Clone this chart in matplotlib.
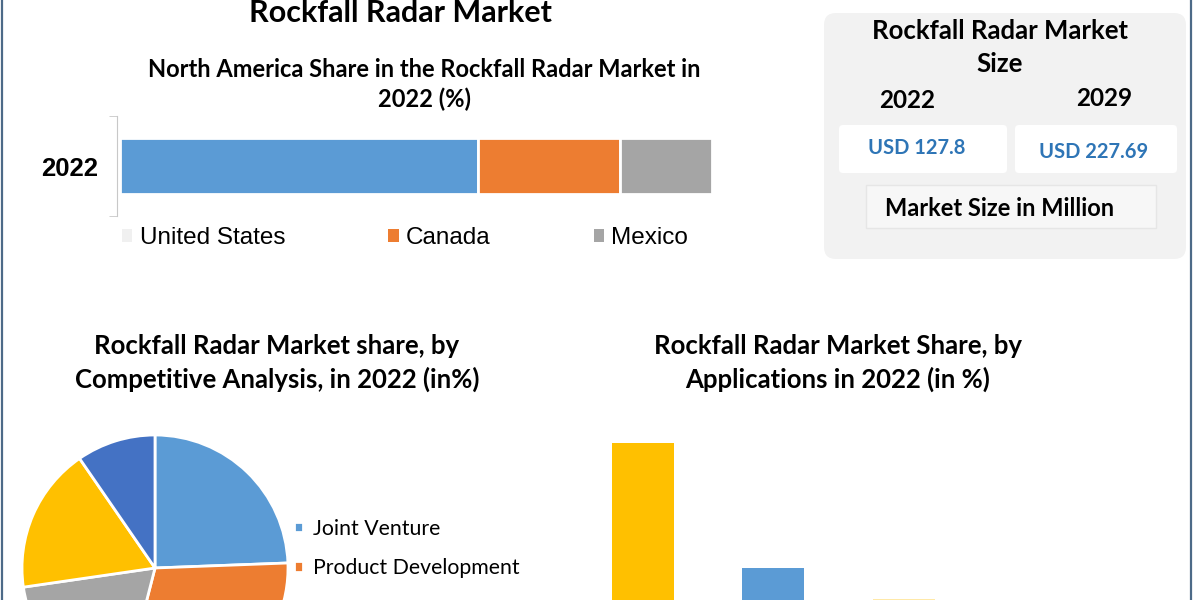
import matplotlib.pyplot as plt
from matplotlib.patches import FancyBboxPatch
from matplotlib.lines import Line2D

# --- data ---
na_year = ['2022']
na_countries = ['United States', 'Canada', 'Mexico']
na_share = [60.5, 24.0, 15.5]
na_colors = ['#5b9bd5', '#ed7d31', '#a5a5a5']

size_years = ['2022', '2029']
size_values = ['USD 127.8', 'USD 227.69']

comp_labels = ['Joint Venture', 'Product Development', 'Mergers & Acquisitions',
               'Partnerships', 'Others']
comp_share = [24.4, 29.6, 18.7, 17.7, 9.6]
comp_colors = ['#5b9bd5', '#ed7d31', '#a5a5a5', '#ffc000', '#4472c4']

app_labels = ['A', 'B', 'C', 'D']
app_share = [42, 22, 17, 15]
app_colors = ['#ffc000', '#5b9bd5', '#ffe9a8', '#f4f4f4']

W, H = 1200, 600
fig = plt.figure(figsize=(12, 6), dpi=100)
fig.patch.set_facecolor('white')


def box(x0, y0, w, h):
    # pixel box (top-left origin) -> figure fraction rect
    return [x0 / W, 1 - (y0 + h) / H, w / W, h / H]


def fx(x):
    return x / W


def fy(y):
    return 1 - y / H


cal = 'Lato'
ari = 'Liberation Sans'

# outer frame lines
fig.add_artist(Line2D([fx(2), fx(2)], [0, 1], color='#4d6a88', lw=1.6))
fig.add_artist(Line2D([fx(1191), fx(1191)], [0, 1], color='#4d6a88', lw=1.6))

# titles
fig.text(fx(400), fy(13), 'Rockfall Radar Market', ha='center', va='center',
         fontsize=22, fontweight='bold', family=cal)
fig.text(fx(424), fy(84.5), 'North America Share in the Rockfall Radar Market in\n2022 (%)',
         ha='center', va='center', fontsize=17, fontweight='bold', family=cal,
         linespacing=1.3)
fig.text(fx(277), fy(363), 'Rockfall Radar Market share, by\nCompetitive Analysis, in 2022 (in%)',
         ha='center', va='center', fontsize=18.5, fontweight='bold', family=cal,
         linespacing=1.38)
fig.text(fx(838), fy(363), 'Rockfall Radar Market Share, by\nApplications in 2022 (in %)',
         ha='center', va='center', fontsize=18.5, fontweight='bold', family=cal,
         linespacing=1.38)

# --- North America stacked bar ---
ax1 = fig.add_axes(box(117, 116, 595, 100))
left = 0
bars = []
for c, v, col in zip(na_countries, na_share, na_colors):
    b = ax1.barh(na_year, v, left=left, height=0.56, color=col, edgecolor='white',
                 linewidth=2, label=c)
    bars.append(b)
    left += v
ax1.set_xlim(-0.5, 100)
ax1.set_ylim(-0.5, 0.5)
for s in ['top', 'right', 'bottom']:
    ax1.spines[s].set_visible(False)
ax1.spines['left'].set_color('#c8c8c8')
ax1.set_xticks([])
ax1.set_yticks([-0.5, 0.5], minor=True)
ax1.tick_params(axis='y', which='minor', length=6, color='#c8c8c8')
ax1.tick_params(axis='y', which='major', length=0, pad=13.5)
for t in ax1.get_yticklabels():
    t.set_fontsize(18.5)
    t.set_fontweight('bold')
    t.set_family(ari)
leg1 = fig.legend(handles=[b[0] for b in bars], labels=na_countries, loc='center left',
                  bbox_to_anchor=(fx(122), fy(238)), ncol=3, frameon=False,
                  prop={'family': ari, 'size': 17.5}, handlelength=0.42, handleheight=0.42,
                  handletextpad=0.3, columnspacing=4.25, borderaxespad=0, borderpad=0)
leg1.legend_handles[0].set_color('#f0f0f0')
for h in leg1.legend_handles:
    h.set_linewidth(0)

# --- market size panel ---
axb = fig.add_axes(box(824, 13, 362, 246))
axb.set_xlim(0, 362)
axb.set_ylim(246, 0)
axb.axis('off')
axb.add_patch(FancyBboxPatch((6, 6), 350, 234, boxstyle='round,pad=6,rounding_size=12',
                             fc='#f2f2f2', ec='none'))
axb.text(176, 34.5, 'Rockfall Radar Market\nSize', ha='center', va='center', fontsize=18.5,
         fontweight='bold', family=cal, linespacing=1.42)
year_x = [83, 280]
year_y = [88, 86]
for yx, yy, yr in zip(year_x, year_y, size_years):
    axb.text(yx, yy, yr, ha='center', va='center', fontsize=17.5, fontweight='bold', family=cal)
vbox_x = [15, 191]
vbox_w = [168, 162]
val_x = [93, 270]
val_y = [135, 139]
for bx, bw, vx, vy, val in zip(vbox_x, vbox_w, val_x, val_y, size_values):
    axb.add_patch(FancyBboxPatch((bx + 3, 115), bw - 6, 42,
                                 boxstyle='round,pad=3,rounding_size=4', fc='white', ec='none'))
    axb.text(vx, vy, val, ha='center', va='center', fontsize=14.5, fontweight='bold',
             family=cal, color='#2e75b6')
axb.add_patch(FancyBboxPatch((42, 172), 290, 43, boxstyle='square,pad=0', fc='#f7f7f7',
                             ec='#e6e6e6', lw=1))
axb.text(176, 195, 'Market Size in Million', ha='center', va='center', fontsize=17,
         fontweight='bold', family=cal)

# --- competitive analysis pie ---
ax2 = fig.add_axes(box(22, 435, 266, 266))
wedges, _ = ax2.pie(comp_share, colors=comp_colors, startangle=90, counterclock=False,
                    wedgeprops={'edgecolor': 'white', 'linewidth': 2})
ax2.set_xlim(-1, 1)
ax2.set_ylim(-1, 1)
fig.legend(handles=wedges[:2], labels=comp_labels[:2], loc='center left',
           bbox_to_anchor=(fx(294), fy(548.5)), frameon=False,
           prop={'family': cal, 'size': 15.3}, handlelength=0.4, handleheight=0.4,
           handletextpad=0.5, labelspacing=0.93, borderaxespad=0, borderpad=0)

# --- applications bar ---
ax3 = fig.add_axes(box(577.5, 424, 522, 281.25))
ax3.bar(range(len(app_share)), app_share, width=0.475, color=app_colors)
ax3.set_xlim(-0.5, 3.5)
ax3.set_ylim(0, 45)
ax3.axis('off')

fig.savefig('out.png', dpi=100)
